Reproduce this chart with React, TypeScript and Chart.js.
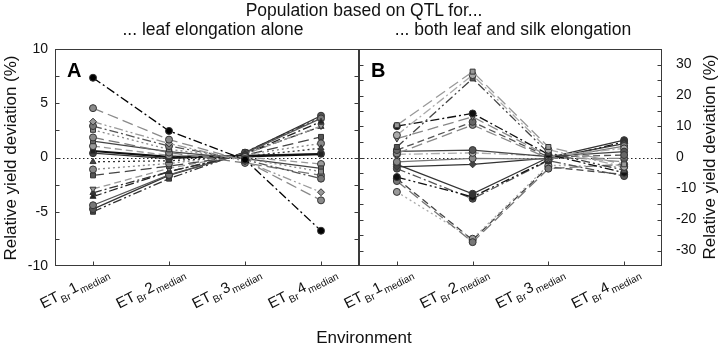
import React, { useEffect, useRef } from 'react';
import { Chart, registerables } from 'chart.js';

Chart.register(...registerables);

const FONT = '"Liberation Sans", Arial, Helvetica, sans-serif';

// Environments along the x axis (ET_Br n _median)
const envNumbers = ['1', '2', '3', '4'];

// Y tick labels
const leafTicks = [-10, -5, 0, 5, 10];
const silkTicks = [-30, -20, -10, 0, 10, 20, 30];

// Panel A: populations based on QTL for leaf elongation alone (% yield deviation)
const leafEt1 = [7.35, 4.55, 3.3, 2.9, 2.55, 1.85, 1.5, 1.05, 0.6, 0.4, -0.4, -1.1, -1.65, -2.9, -3.25, -3.6, -4.4, -4.75, -5.0];
const leafEt2 = [2.45, 1.65, 1.3, 1.05, 0.75, 0.45, 0.55, 0.2, 0.05, -0.1, -0.3, -0.55, -0.8, -1.0, -1.3, -1.3, -1.6, -1.65, -1.95];
const leafEt3 = [-0.2, -0.3, -0.35, -0.2, -0.1, -0.5, -0.1, 0.05, 0.1, 0.2, 0.1, 0.25, 0.2, 0.3, 0.35, 0.3, 0.4, 0.45, 0.5];
const leafEt4 = [-6.75, -3.95, -3.2, -1.95, -1.3, -1.65, -1.0, -0.6, 0.3, 0.35, 0.85, 1.3, 1.9, 2.9, 2.85, 3.3, 3.6, 3.85, 3.7];

// Panel B: populations based on QTL for both leaf and silk elongation
const silkEt1 = [10.4, 7.2, 3.4, 10.1, 6.1, 2.4, 1.3, 2.0, 1.0, -1.4, -3.0, -2.2, -6.3, -3.6, -7.6, -11.1, -6.8];
const silkEt2 = [27.7, 26.6, 25.5, 14.2, 13.1, 11.5, 10.5, 2.4, 1.5, -0.3, -2.2, -11.7, -12.7, -13.3, -27.3, -26.2, -26.6];
const silkEt3 = [3.4, 2.5, 1.5, 1.0, 0.5, 0.2, -0.3, 0.3, 0.5, -0.5, -0.2, 0.0, -0.8, -1.0, -3.6, -2.5, -3.0];
const silkEt4 = [-2.2, -3.0, -4.1, -4.9, -1.4, 0.8, -0.3, 1.9, 2.9, 3.7, 4.5, 5.6, 5.0, -6.0, -2.2, -3.0, -5.5];

// Line dash patterns
const DASHES: Record<string, number[]> = {
  solid: [],
  dash: [7, 4],
  longDash: [11, 5],
  dashDot: [9, 3, 2, 3],
  dashDotDot: [9, 3, 2, 3, 2, 3],
  dotted: [2, 3],
};

// Styles, one entry per line in panel A
const leafLineColors = ['#000', '#8a8a8a', '#9a9a9a', '#555', '#888', '#777', '#444', '#999', '#111', '#333', '#333', '#888', '#444', '#999', '#333', '#222', '#555', '#333', '#333'];
const leafFillColors = ['#000', '#8a8a8a', '#999', '#777', '#888', '#888', '#666', '#999', '#222', '#444', '#444', '#888', '#555', '#999', '#333', '#222', '#777', '#555', '#444'];
const leafDashes = ['dashDot', 'longDash', 'dashDotDot', 'dashDot', 'dotted', 'longDash', 'solid', 'dash', 'solid', 'solid', 'dotted', 'dotted', 'longDash', 'dash', 'dashDot', 'dashDot', 'solid', 'solid', 'dashDotDot'];
const leafMarkers = ['circle', 'circle', 'rectRot', 'circle', 'rect', 'circle', 'rect', 'circle', 'rect', 'circle', 'triangle', 'circle', 'rect', 'triangleDown', 'triangle', 'triangle', 'circle', 'circle', 'rect'];
const leafWidths = [1.3, 1.3, 1.3, 1.3, 1.3, 1.3, 1.3, 1.3, 2.2, 1.3, 1.3, 1.3, 1.3, 1.3, 1.3, 1.3, 1.3, 1.3, 1.3];

// Styles, one entry per line in panel B
const silkLineColors = ['#999', '#aaa', '#444', '#111', '#888', '#555', '#888', '#444', '#aaa', '#777', '#333', '#333', '#111', '#555', '#777', '#aaa', '#444'];
const silkFillColors = ['#999', '#aaa', '#555', '#111', '#888', '#666', '#888', '#555', '#aaa', '#888', '#444', '#333', '#111', '#555', '#777', '#999', '#444'];
const silkDashes = ['longDash', 'dashDot', 'dashDotDot', 'dashDot', 'longDash', 'dash', 'longDash', 'solid', 'dashDot', 'solid', 'solid', 'solid', 'dashDotDot', 'dashDot', 'longDash', 'dotted', 'dash'];
const silkMarkers = ['rect', 'circle', 'rect', 'circle', 'triangleDown', 'circle', 'circle', 'circle', 'circle', 'circle', 'rectRot', 'circle', 'circle', 'circle', 'circle', 'circle', 'circle'];

const LABEL_ANGLE = (27 * Math.PI) / 180;

function buildDatasets(
  et: number[][],
  lineColors: string[],
  fillColors: string[],
  dashes: string[],
  markers: string[],
  widths?: number[],
) {
  return et[0].map((_, i) => {
    const marker = markers[i];
    const down = marker === 'triangleDown';
    return {
      data: et.map((col) => col[i]),
      borderColor: lineColors[i],
      borderWidth: widths ? widths[i] : 1.3,
      borderDash: DASHES[dashes[i]],
      backgroundColor: fillColors[i],
      pointBackgroundColor: fillColors[i],
      pointBorderColor: '#333',
      pointBorderWidth: 1,
      pointRadius: 3.5,
      pointStyle: down ? 'triangle' : marker,
      pointRotation: down ? 180 : 0,
      tension: 0,
      fill: false,
    };
  });
}

function drawEnvLabel(ctx: CanvasRenderingContext2D, x: number, y: number, num: string) {
  const big = `15px ${FONT}`;
  const small = `10px ${FONT}`;
  const parts = [
    { t: 'ET', f: big, dy: 0, gap: 1 },
    { t: 'Br', f: small, dy: 4, gap: 2 },
    { t: num, f: big, dy: 0, gap: 1 },
    { t: 'median', f: small, dy: 4, gap: 0 },
  ];
  let total = 0;
  const widths = parts.map((p) => {
    ctx.font = p.f;
    const w = ctx.measureText(p.t).width;
    total += w + p.gap;
    return w;
  });
  ctx.save();
  ctx.translate(x, y);
  ctx.rotate(-LABEL_ANGLE);
  ctx.fillStyle = '#111';
  ctx.textBaseline = 'alphabetic';
  ctx.textAlign = 'left';
  let cx = -total;
  parts.forEach((p, i) => {
    ctx.font = p.f;
    ctx.fillText(p.t, cx, p.dy);
    cx += widths[i] + p.gap;
  });
  ctx.restore();
}

function framePlugin(letter: string, minorStep: number) {
  return {
    id: 'frame' + letter,
    beforeDatasetsDraw(chart: any) {
      const { ctx, chartArea } = chart;
      const yScale = chart.scales.y;
      const y0 = Math.round(yScale.getPixelForValue(0)) + 0.5;
      ctx.save();
      ctx.strokeStyle = '#222';
      ctx.lineWidth = 1;
      ctx.setLineDash([1.5, 2.5]);
      ctx.beginPath();
      ctx.moveTo(chartArea.left, y0);
      ctx.lineTo(chartArea.right, y0);
      ctx.stroke();
      ctx.restore();
    },
    afterDraw(chart: any) {
      const { ctx, chartArea } = chart;
      const xScale = chart.scales.x;
      const yScale = chart.scales.y;
      const l = Math.round(chartArea.left) + 0.5;
      const r = Math.round(chartArea.right) - 0.5;
      const t = Math.round(chartArea.top) + 0.5;
      const b = Math.round(chartArea.bottom) - 0.5;
      ctx.save();
      ctx.strokeStyle = '#3a3a3a';
      ctx.lineWidth = 1;
      ctx.setLineDash([]);
      ctx.strokeRect(l, t, r - l, b - t);
      // inward tick marks on both vertical borders
      ctx.beginPath();
      for (let v = yScale.min + minorStep; v < yScale.max - 1e-6; v += minorStep) {
        const py = Math.round(yScale.getPixelForValue(v)) + 0.5;
        ctx.moveTo(l, py);
        ctx.lineTo(l + 4, py);
        ctx.moveTo(r, py);
        ctx.lineTo(r - 4, py);
      }
      // inward tick marks at each environment
      envNumbers.forEach((_, i) => {
        const px = Math.round(xScale.getPixelForValue(i)) + 0.5;
        ctx.moveTo(px, b);
        ctx.lineTo(px, b - 4);
      });
      ctx.stroke();
      // rotated environment labels
      envNumbers.forEach((n, i) => {
        const px = xScale.getPixelForValue(i);
        drawEnvLabel(ctx, px + 16.5, chartArea.bottom + 9, n);
      });
      // panel letter
      ctx.fillStyle = '#000';
      ctx.font = `bold 20px ${FONT}`;
      ctx.textAlign = 'left';
      ctx.textBaseline = 'alphabetic';
      ctx.fillText(letter, chartArea.left + 12, chartArea.top + 28);
      ctx.restore();
    },
  };
}

function makeConfig(opts: {
  datasets: any[];
  ticks: number[];
  min: number;
  max: number;
  position: 'left' | 'right';
  axisWidth: number;
  tickPadding: number;
  padding: { left: number; right: number; top: number; bottom: number };
  letter: string;
  minorStep: number;
}): any {
  return {
    type: 'line',
    data: { labels: envNumbers, datasets: opts.datasets },
    options: {
      responsive: false,
      animation: false,
      devicePixelRatio: 1,
      events: [],
      layout: { padding: opts.padding },
      plugins: { legend: { display: false }, tooltip: { enabled: false }, title: { display: false } },
      scales: {
        x: {
          type: 'category',
          offset: true,
          grid: { display: false, drawTicks: false },
          border: { display: false },
          ticks: { display: false },
          afterFit: (scale: any) => {
            scale.height = 80;
          },
        },
        y: {
          type: 'linear',
          position: opts.position,
          min: opts.min,
          max: opts.max,
          grid: { display: false, drawTicks: false },
          border: { display: false },
          ticks: {
            padding: opts.tickPadding,
            color: '#111',
            font: { family: FONT, size: 14 },
          },
          afterBuildTicks: (scale: any) => {
            scale.ticks = opts.ticks.map((v) => ({ value: v }));
          },
          afterFit: (scale: any) => {
            scale.width = opts.axisWidth;
          },
        },
      },
    },
    plugins: [framePlugin(opts.letter, opts.minorStep)],
  };
}

const textBase: React.CSSProperties = {
  position: 'absolute',
  whiteSpace: 'nowrap',
  color: '#111',
  fontFamily: FONT,
};

export default function App() {
  const refA = useRef<HTMLCanvasElement>(null);
  const refB = useRef<HTMLCanvasElement>(null);

  useEffect(() => {
    const chartA = new Chart(
      refA.current!,
      makeConfig({
        datasets: buildDatasets([leafEt1, leafEt2, leafEt3, leafEt4], leafLineColors, leafFillColors, leafDashes, leafMarkers, leafWidths),
        ticks: leafTicks,
        min: -10,
        max: 10,
        position: 'left',
        axisWidth: 55,
        tickPadding: 7,
        padding: { left: 0, right: 5, top: 49, bottom: 0 },
        letter: 'A',
        minorStep: 2.5,
      }),
    );
    const chartB = new Chart(
      refB.current!,
      makeConfig({
        datasets: buildDatasets([silkEt1, silkEt2, silkEt3, silkEt4], silkLineColors, silkFillColors, silkDashes, silkMarkers),
        ticks: silkTicks,
        min: -35,
        max: 35,
        position: 'right',
        axisWidth: 66,
        tickPadding: 14,
        padding: { left: 59, right: 0, top: 49, bottom: 0 },
        letter: 'B',
        minorStep: 5,
      }),
    );
    return () => {
      chartA.destroy();
      chartB.destroy();
    };
  }, []);

  return (
    <div style={{ position: 'fixed', left: 0, top: 0, width: 728, height: 346, background: '#fff', overflow: 'hidden' }}>
      <canvas ref={refA} width={364} height={346} style={{ position: 'absolute', left: 0, top: 0 }} />
      <canvas ref={refB} width={428} height={346} style={{ position: 'absolute', left: 300, top: 0 }} />
      <div style={{ ...textBase, left: 0, width: 728, top: 1, fontSize: 17.5, lineHeight: '18px', textAlign: 'center' }}>
        Population based on QTL for...
      </div>
      <div style={{ ...textBase, left: 13, width: 400, top: 20, fontSize: 17.5, lineHeight: '18px', textAlign: 'center' }}>
        ... leaf elongation alone
      </div>
      <div style={{ ...textBase, left: 313, width: 400, top: 20, fontSize: 17.5, lineHeight: '18px', textAlign: 'center' }}>
        ... both leaf and silk elongation
      </div>
      <div style={{ ...textBase, left: 0, width: 728, top: 329, fontSize: 17, lineHeight: '18px', textAlign: 'center' }}>
        Environment
      </div>
      <div
        style={{
          ...textBase,
          left: 10.5 - 150,
          top: 158 - 9,
          width: 300,
          height: 18,
          fontSize: 17,
          lineHeight: '18px',
          textAlign: 'center',
          transform: 'rotate(-90deg)',
        }}
      >
        Relative yield deviation (%)
      </div>
      <div
        style={{
          ...textBase,
          left: 710 - 150,
          top: 157 - 9,
          width: 300,
          height: 18,
          fontSize: 17,
          lineHeight: '18px',
          textAlign: 'center',
          transform: 'rotate(-90deg)',
        }}
      >
        Relative yield deviation (%)
      </div>
    </div>
  );
}
